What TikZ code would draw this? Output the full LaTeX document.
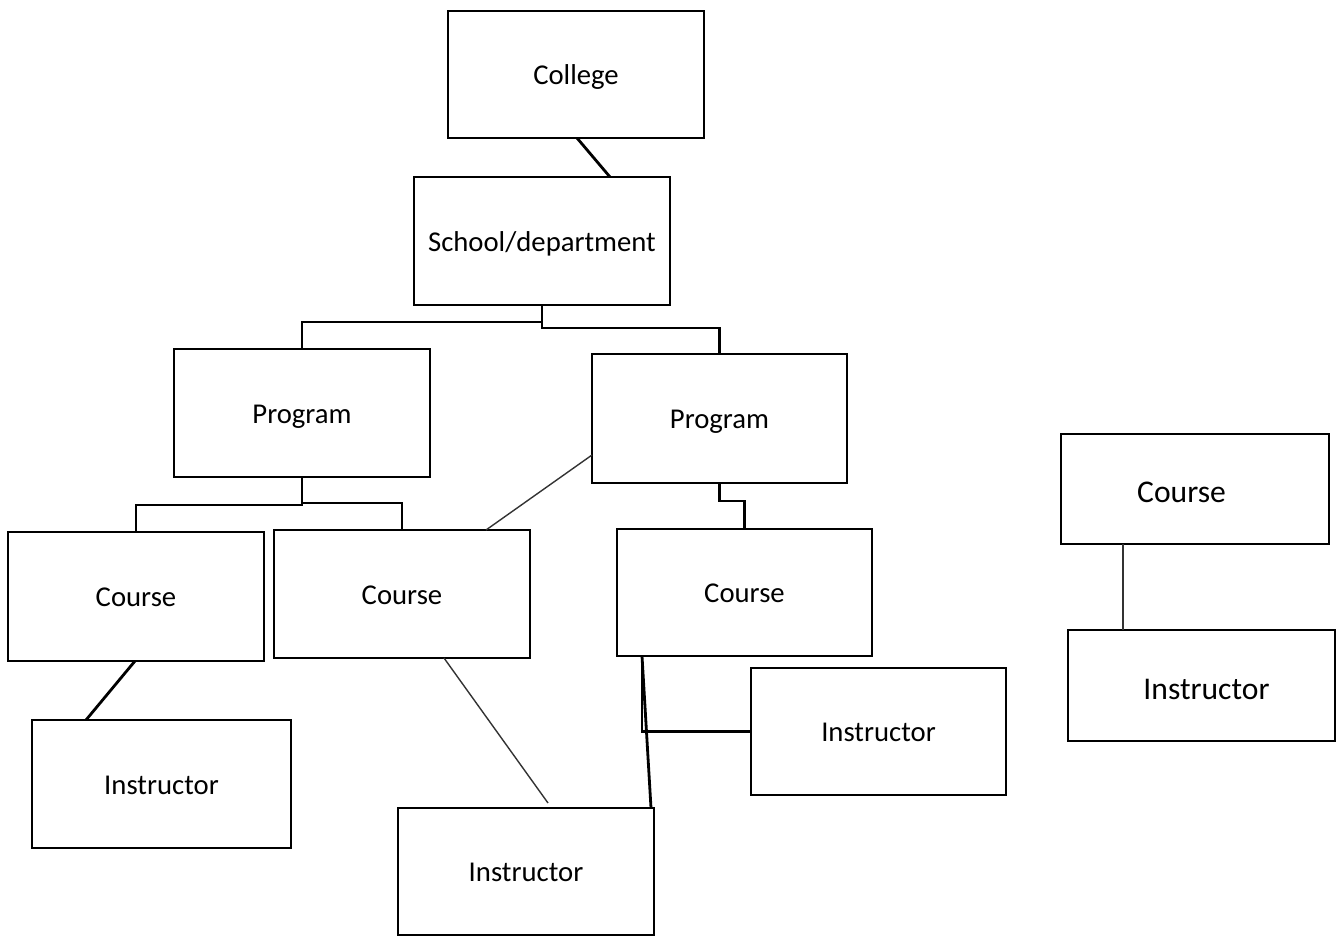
\documentclass[tikz,border=0pt]{standalone}
\usepackage{fontspec}
\setmainfont{Carlito}
\usetikzlibrary{calc}
\begin{document}
\begin{tikzpicture}[x=1pt,y=-1pt,
  box/.style={draw=black,line width=2.7pt,inner sep=0pt,outer sep=0pt,
    font=\fontsize{28.7}{34}\selectfont,text height=20pt,text depth=0pt,
    minimum width=256pt,minimum height=128pt},
  bigbox/.style={box,font=\fontsize{31.6}{38}\selectfont},
  thickline/.style={draw=black,line width=2.8pt},
  thinline/.style={draw=black!80,line width=1.4pt}]
\useasboundingbox (0,0) rectangle (1336,937);
\node[box,minimum height=127pt] (college) at (576,74.5) {College};
\node[box] (school) at (542,241) {School/department};
\node[box] (prog1) at (302,413) {Program};
\node[box,minimum width=255pt,minimum height=129pt] (prog2) at (719.5,418.5) {Program};
\node[box,minimum height=129pt] (course1) at (136,596.5) {Course};
\node[box] (course2) at (402,594) {Course};
\node[box,minimum width=255pt,minimum height=127pt] (course3) at (744.5,592.5) {Course};
\node[box,minimum width=259pt] (instr1) at (161.5,784) {Instructor};
\node[box,minimum height=127pt] (instr2) at (526,871.5) {Instructor};
\node[box,minimum width=255pt,minimum height=127pt] (instr3) at (878.5,731.5) {Instructor};
\node[bigbox,minimum width=268pt,minimum height=110pt,
  label={[font=\fontsize{31.6}{38}\selectfont,xshift=-13.5pt,yshift=-3pt]center:Course}] (rc) at (1195,489) {};
\node[bigbox,minimum width=267pt,minimum height=111pt,
  label={[font=\fontsize{31.6}{38}\selectfont,xshift=5pt,yshift=-3.5pt]center:Instructor}] (ri) at (1201.5,685.5) {};
% connectors
\draw[thickline] ([xshift=1pt]college.south) -- ([xshift=68pt]school.north);
\draw[thickline] (school.south) -- ++(0,17) -| (prog1.north);
\draw[thickline] (school.south) -- ++(0,23) -| (prog2.north);
\draw[thickline] (prog1.south) -- ++(0,28) -| (course1.north);
\draw[thickline] (prog1.south) -- ++(0,26) -| (course2.north);
\draw[thinline] ([yshift=-36.5pt]prog2.west) -- ([xshift=84pt]course2.north);
\draw[thickline] (prog2.south) -- ++(0,18) -| (course3.north);
\draw[thickline] ([xshift=-1pt]course1.south) -- ([xshift=-75.5pt]instr1.north);
\draw[thinline] ([xshift=42pt]course2.south) -- ([xshift=22pt,yshift=5pt]instr2.north);
\draw[thickline] ([xshift=25pt]course3.south west) |- (instr3.west);
\draw[thickline] ([xshift=25pt]course3.south west) -- ([xshift=-3pt]instr2.north east);
\draw[thinline] ([xshift=62pt]rc.south west) -- ([xshift=62pt]rc.south west |- ri.north);
\end{tikzpicture}
\end{document}
